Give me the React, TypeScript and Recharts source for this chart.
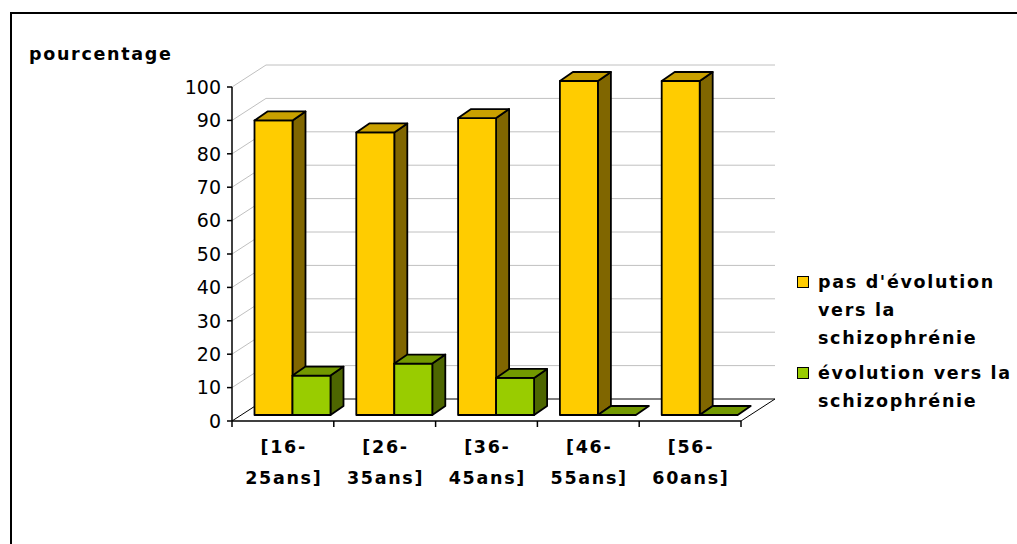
import React from "react";
import {
  BarChart,
  Bar,
  XAxis,
  YAxis,
  CartesianGrid,
  Legend,
} from "recharts";

const categories = ["[16-25ans]", "[26-35ans]", "[36-45ans]", "[46-55ans]", "[56-60ans]"];
const pasEvolution = [88.2, 84.6, 88.9, 100, 100];
const evolution = [11.8, 15.4, 11.1, 0, 0];
const yTicks = [0, 10, 20, 30, 40, 50, 60, 70, 80, 90, 100];

const data = categories.map((name, i) => ({
  name,
  pas: pasEvolution[i],
  evo: evolution[i],
}));

// layout
const W = 1017;
const H = 544;
const MARGIN = { top: 87, right: 276, bottom: 63, left: 172 };
const Y_AXIS_W = 60;
const X_AXIS_H = 60;
const PLOT_LEFT = MARGIN.left + Y_AXIS_W;
const PLOT_W = W - MARGIN.right - PLOT_LEFT;
const PLOT_BOTTOM = H - MARGIN.bottom - X_AXIS_H;

// 3d look
const WALL_DX = 34;
const WALL_DY = -22;
const BAR_SHIFT_X = 9.5;
const BAR_SHIFT_Y = -6;
const DEPTH_X = 13;
const DEPTH_Y = -9;

const FONT = "'DejaVu Sans', Arial, sans-serif";
const LABEL_SIZE = 17.5;
const LABEL_SPACING = 1.7;

const make3DBar = (front: string, top: string, side: string) => (props: any) => {
  const { x, y, width, height } = props;
  if (x == null || y == null) return <g />;
  const x0 = x + BAR_SHIFT_X;
  const y0 = y + BAR_SHIFT_Y;
  const h = Math.max(0, height || 0);
  const w = width;
  const topPts = `${x0},${y0} ${x0 + DEPTH_X},${y0 + DEPTH_Y} ${x0 + w + DEPTH_X},${y0 + DEPTH_Y} ${x0 + w},${y0}`;
  const sidePts = `${x0 + w},${y0} ${x0 + w + DEPTH_X},${y0 + DEPTH_Y} ${x0 + w + DEPTH_X},${y0 + h + DEPTH_Y} ${x0 + w},${y0 + h}`;
  return (
    <g stroke="#000" strokeWidth={1.8} strokeLinejoin="round">
      {h > 0 && <polygon points={sidePts} fill={side} />}
      {h > 0 && <rect x={x0} y={y0} width={w} height={h} fill={front} />}
      <polygon points={topPts} fill={top} />
    </g>
  );
};

const OrangeBar = make3DBar("#FFCC00", "#C9A000", "#806600");
const GreenBar = make3DBar("#99CC00", "#739900", "#4D6600");

const gridLine = (props: any) => {
  const { x1, y1, x2, key } = props;
  const isFloor = Math.abs(y1 - PLOT_BOTTOM) < 1;
  if (isFloor) {
    return (
      <path
        key={key}
        d={`M${x1},${y1} L${x1 + WALL_DX},${y1 + WALL_DY} L${x2 + WALL_DX},${y1 + WALL_DY} L${x2},${y1}`}
        fill="#fff"
        stroke="#000"
        strokeWidth={1}
      />
    );
  }
  return (
    <path
      key={key}
      d={`M${x1},${y1} L${x1 + WALL_DX},${y1 + WALL_DY} L${x2 + WALL_DX},${y1 + WALL_DY}`}
      fill="none"
      stroke="#C0C0C0"
      strokeWidth={1}
    />
  );
};

const CategoryTick = (props: any) => {
  const { x, y, payload, index } = props;
  const half = PLOT_W / categories.length / 2;
  const label: string = payload.value;
  const cut = label.indexOf("-") + 1;
  const tx = x + LABEL_SPACING / 2;
  return (
    <g>
      {index === 0 && <line x1={x - half} y1={y} x2={x - half} y2={y + 6} stroke="#000" strokeWidth={1.5} />}
      <line x1={x + half} y1={y} x2={x + half} y2={y + 6} stroke="#000" strokeWidth={1.5} />
      <text
        x={tx}
        y={y}
        textAnchor="middle"
        fontSize={LABEL_SIZE}
        fontWeight="bold"
        letterSpacing={LABEL_SPACING}
        fill="#000"
        fontFamily={FONT}
      >
        <tspan x={tx} dy={32}>{label.slice(0, cut)}</tspan>
        <tspan x={tx} dy={31}>{label.slice(cut)}</tspan>
      </text>
    </g>
  );
};

const LegendContent = (props: any) => {
  const { payload } = props;
  return (
    <div style={{ width: 230, fontFamily: FONT }}>
      {(payload || []).map((entry: any, i: number) => (
        <div key={`leg-${i}`} style={{ display: "flex", alignItems: "flex-start", marginBottom: 7 }}>
          <span
            style={{
              display: "inline-block",
              width: 10,
              height: 10,
              background: entry.color,
              border: "1px solid #000",
              marginTop: 8,
              marginRight: 9,
              flex: "none",
            }}
          />
          <span
            style={{
              fontSize: LABEL_SIZE,
              fontWeight: "bold",
              letterSpacing: LABEL_SPACING,
              lineHeight: "28px",
              color: "#000",
              width: 205,
              flex: "none",
            }}
          >
            {entry.value}
          </span>
        </div>
      ))}
    </div>
  );
};

const App: React.FC = () => {
  return (
    <div
      style={{
        position: "fixed",
        left: 0,
        top: 0,
        width: W,
        height: H,
        overflow: "hidden",
        background: "#fff",
        fontFamily: FONT,
      }}
    >
      <div
        style={{
          position: "absolute",
          left: 10,
          top: 12,
          width: 1100,
          height: 600,
          borderLeft: "2px solid #000",
          borderTop: "2px solid #000",
        }}
      />
      <div style={{ position: "absolute", left: 0, top: 0 }}>
        <BarChart
          width={W}
          height={H}
          data={data}
          margin={MARGIN}
          barGap={0}
          barSize={38}
        >
          <CartesianGrid vertical={false} horizontal={gridLine} />
          <XAxis
            dataKey="name"
            height={X_AXIS_H}
            axisLine={{ stroke: "#000", strokeWidth: 1.5 }}
            tickLine={false}
            tickSize={0}
            tickMargin={0}
            interval={0}
            tick={<CategoryTick />}
          />
          <YAxis
            width={Y_AXIS_W}
            domain={[0, 100]}
            ticks={yTicks}
            interval={0}
            axisLine={{ stroke: "#000", strokeWidth: 1.5 }}
            tickLine={{ stroke: "#000", strokeWidth: 1.5 }}
            tickSize={5}
            tickMargin={6}
            tick={{ fill: "#000", fontSize: 19, fontFamily: FONT }}
            label={(p: any) => (
              <text x={29} y={60} fontSize={LABEL_SIZE} fontWeight="bold" letterSpacing={LABEL_SPACING} fill="#000" fontFamily={FONT}>
                pourcentage
              </text>
            )}
          />
          <Legend
            layout="vertical"
            align="center"
            verticalAlign="middle"
            content={<LegendContent />}
            wrapperStyle={{ left: 797, top: 268, width: 230 }}
          />
          <Bar
            dataKey="pas"
            name="pas d'évolution vers la schizophrénie"
            fill="#FFCC00"
            shape={OrangeBar}
            isAnimationActive={false}
          />
          <Bar
            dataKey="evo"
            name="évolution vers la schizophrénie"
            fill="#99CC00"
            shape={GreenBar}
            isAnimationActive={false}
          />
        </BarChart>
      </div>
    </div>
  );
};

export default App;
